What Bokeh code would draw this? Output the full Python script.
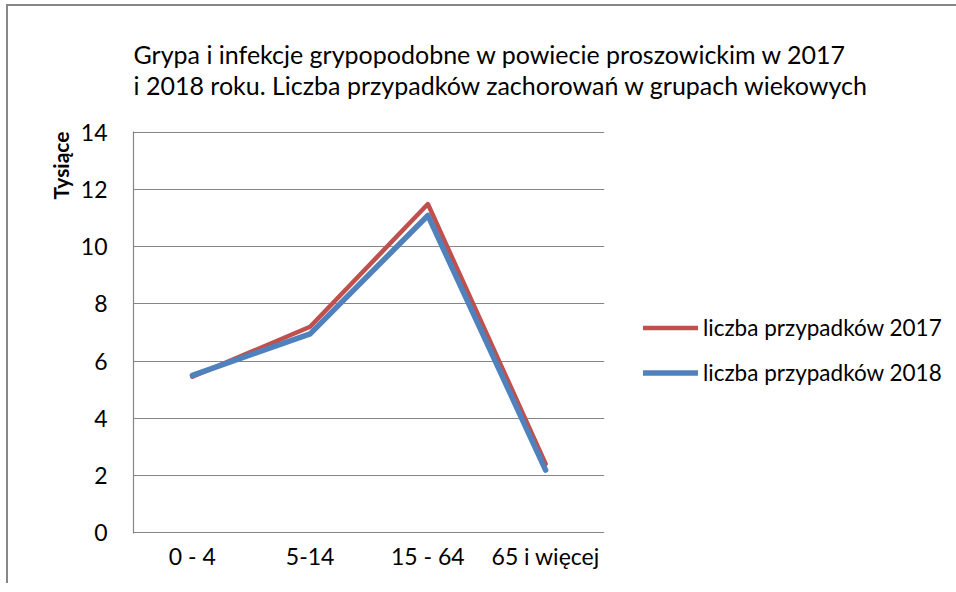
from bokeh.plotting import figure
from bokeh.models import Range1d, FixedTicker, Legend, LegendItem, Title
from bokeh.embed import file_html
from bokeh.resources import INLINE

categories = ["0 - 4", "5-14", "15 - 64", "65 i więcej"]
cases_2017 = [5.45, 7.2, 11.5, 2.4]
cases_2018 = [5.5, 6.95, 11.1, 2.18]
y_ticks = [0, 2, 4, 6, 8, 10, 12, 14]
title_lines = ["Grypa i infekcje grypopodobne w powiecie proszowickim w 2017",
               "i 2018 roku. Liczba przypadków zachorowań w grupach wiekowych"]
series_names = ["liczba przypadków 2017", "liczba przypadków 2018"]
y_title = "Tysiące"

FONT = "Lato"
GRID = "#868686"

p = figure(x_range=categories, y_range=Range1d(-0.04, 14.04),
           frame_width=471, frame_height=402,
           output_backend="svg", toolbar_location=None,
           min_border_left=125, min_border_right=348, min_border_top=119, min_border_bottom=50)
p.styles = {"border-left": "2px solid #878787", "border-top": "2px solid #878787",
            "margin-left": "6px", "margin-top": "4px"}
p.outline_line_color = None
p.background_fill_color = "white"
p.border_fill_color = "white"

p.xgrid.visible = False
p.ygrid.ticker = FixedTicker(ticks=y_ticks)
p.ygrid.grid_line_color = GRID
p.ygrid.grid_line_width = 1.2

p.yaxis.ticker = FixedTicker(ticks=y_ticks)
p.yaxis.axis_line_color = GRID
p.yaxis.axis_line_width = 1.2
p.yaxis.major_tick_line_color = None
p.yaxis.minor_tick_line_color = None
p.yaxis.major_label_standoff = 20
p.yaxis.major_label_text_font = FONT
p.yaxis.major_label_text_font_size = "23px"
p.yaxis.major_label_text_color = "black"

p.xaxis.axis_line_color = None
p.xaxis.major_tick_line_color = None
p.xaxis.minor_tick_line_color = None
p.xaxis.major_label_standoff = 2
p.xaxis.major_label_text_font = FONT
p.xaxis.major_label_text_font_size = "23px"
p.xaxis.major_label_text_color = "black"

r1 = p.line(categories, cases_2017, line_color="#C0504D", line_width=4.5,
            line_cap="round", line_join="round")
r2 = p.line(categories, cases_2018, line_color="#4F81BD", line_width=5.5,
            line_cap="round", line_join="round")

legend = Legend(items=[LegendItem(label=series_names[0], renderers=[r1]),
                       LegendItem(label=series_names[1], renderers=[r2])],
                location=(39, 147), orientation="vertical")
legend.glyph_width = 55
legend.glyph_height = 27
legend.label_height = 27
legend.label_standoff = 5
legend.spacing = 18
legend.padding = 0
legend.margin = 0
legend.border_line_color = None
legend.background_fill_alpha = 0
legend.label_text_font = FONT
legend.label_text_font_size = "22.5px"
legend.label_text_color = "black"
p.add_layout(legend, "right")

p.add_layout(Title(text="\n".join(title_lines), align="left", standoff=62,
                   text_font=FONT, text_font_size="25px", text_font_style="normal",
                   text_line_height=1.04, text_color="black"), "above")

p.add_layout(Title(text=y_title, align="right", standoff=10,
                   text_font=FONT, text_font_size="21px", text_font_style="bold",
                   text_color="black"), "left")

open("out.html", "w").write(file_html(p, INLINE))
